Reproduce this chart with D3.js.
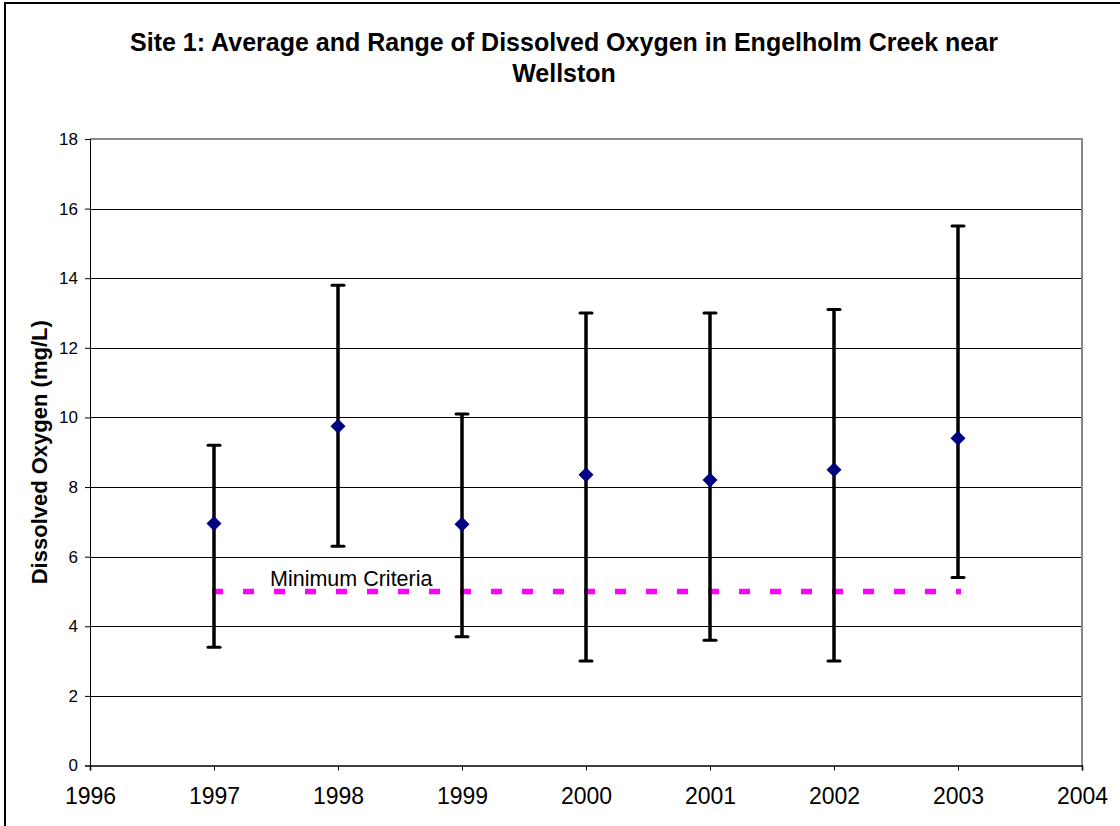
<!DOCTYPE html>
<html>
<head>
<meta charset="utf-8">
<script src="https://cdn.jsdelivr.net/npm/d3@7"></script>
<style>
  body { margin: 0; background: #fff; }
  svg { display: block; font-family: Arial, "Liberation Sans", sans-serif; }
</style>
</head>
<body>
<svg></svg>
<script>
// data
const years = [1997, 1998, 1999, 2000, 2001, 2002, 2003];
const averages = [6.95, 9.75, 6.93, 8.35, 8.2, 8.5, 9.4];
const minimums = [3.4, 6.3, 3.7, 3.0, 3.6, 3.0, 5.4];
const maximums = [9.2, 13.8, 10.1, 13.0, 13.0, 13.1, 15.5];
const xTicks = [1996, 1997, 1998, 1999, 2000, 2001, 2002, 2003, 2004];
const yTicks = [0, 2, 4, 6, 8, 10, 12, 14, 16, 18];
const criteriaValue = 5;
const criteriaLabel = "Minimum Criteria";

const data = years.map((y, i) => ({ year: y, avg: averages[i], min: minimums[i], max: maximums[i] }));

const width = 1120, height = 826;
const svg = d3.select('svg').attr('width', width).attr('height', height);

// outer chart frame (runs off the bottom/right edges)
svg.append('rect')
    .attr('x', 5).attr('y', 3)
    .attr('width', width + 10).attr('height', height + 10)
    .attr('fill', '#fff').attr('stroke', '#000').attr('stroke-width', 2);

const margin = { top: 139, right: 38, bottom: 60.5, left: 90 };
const x = d3.scaleLinear().domain([1996, 2004]).range([margin.left, width - margin.right]);
const y = d3.scaleLinear().domain([0, 18]).range([height - margin.bottom, margin.top]);

// title
const title = svg.append('text')
    .attr('text-anchor', 'middle')
    .attr('font-weight', 'bold')
    .attr('font-size', 25);
title.append('tspan').attr('x', 564).attr('y', 51)
    .text('Site 1: Average and Range of Dissolved Oxygen in Engelholm Creek near');
title.append('tspan').attr('x', 564).attr('y', 82).text('Wellston');

// gridlines
svg.append('g')
    .selectAll('line').data(yTicks.filter(d => d > 0 && d < 18)).join('line')
    .attr('x1', x(1996)).attr('x2', x(2004))
    .attr('y1', d => Math.round(y(d)) + 0.5).attr('y2', d => Math.round(y(d)) + 0.5)
    .attr('stroke', '#000').attr('stroke-width', 1);

// plot area top/right border
svg.append('path')
    .attr('d', `M${x(1996)},${y(18)}H${x(2004)}V${y(0)}`)
    .attr('fill', 'none').attr('stroke', '#888').attr('stroke-width', 2);

// axes
const yAxis = d3.axisLeft(y).tickValues(yTicks).tickSize(5).tickPadding(7);
const gy = svg.append('g').attr('transform', `translate(${x(1996)},0)`).call(yAxis);
gy.selectAll('text').attr('font-size', 17).attr('fill', '#000').attr('font-family', 'Arial, "Liberation Sans", sans-serif');
gy.select('.domain').attr('stroke', '#000');

const xAxis = d3.axisBottom(x).tickValues(xTicks).tickFormat(d3.format('d')).tickSize(5).tickPadding(17);
const gx = svg.append('g').attr('transform', `translate(0,${y(0)})`).call(xAxis);
gx.selectAll('text').attr('font-size', 23).attr('fill', '#000').attr('font-family', 'Arial, "Liberation Sans", sans-serif');
gx.select('.domain').attr('stroke', '#000').attr('stroke-width', 1.5);

// y axis title
svg.append('text')
    .attr('transform', `translate(47,${(y(0) + y(18)) / 2}) rotate(-90)`)
    .attr('text-anchor', 'middle')
    .attr('font-weight', 'bold')
    .attr('font-size', 22)
    .text('Dissolved Oxygen (mg/L)');

// minimum criteria dashed line
svg.append('line')
    .attr('x1', x(years[0]) - 2).attr('x2', x(years[years.length - 1]) + 3)
    .attr('y1', y(criteriaValue)).attr('y2', y(criteriaValue))
    .attr('stroke', '#ff00ff').attr('stroke-width', 5.5)
    .attr('stroke-dasharray', '11,20');

svg.append('text')
    .attr('x', 270).attr('y', 586)
    .attr('font-size', 21.5)
    .text(criteriaLabel);

// error bars
const bars = svg.append('g').selectAll('g').data(data).join('g');
bars.append('line')
    .attr('x1', d => x(d.year)).attr('x2', d => x(d.year))
    .attr('y1', d => y(d.min)).attr('y2', d => y(d.max))
    .attr('stroke', '#000').attr('stroke-width', 3.5);
bars.append('line')
    .attr('x1', d => x(d.year) - 6).attr('x2', d => x(d.year) + 6)
    .attr('y1', d => y(d.max)).attr('y2', d => y(d.max))
    .attr('stroke', '#000').attr('stroke-width', 3).attr('stroke-linecap', 'round');
bars.append('line')
    .attr('x1', d => x(d.year) - 6).attr('x2', d => x(d.year) + 6)
    .attr('y1', d => y(d.min)).attr('y2', d => y(d.min))
    .attr('stroke', '#000').attr('stroke-width', 3).attr('stroke-linecap', 'round');

// average markers
bars.append('path')
    .attr('d', d => {
        const cx = x(d.year), cy = y(d.avg), r = 7.5;
        return `M${cx},${cy - r}L${cx + r},${cy}L${cx},${cy + r}L${cx - r},${cy}Z`;
    })
    .attr('fill', '#000080');
</script>
</body>
</html>
